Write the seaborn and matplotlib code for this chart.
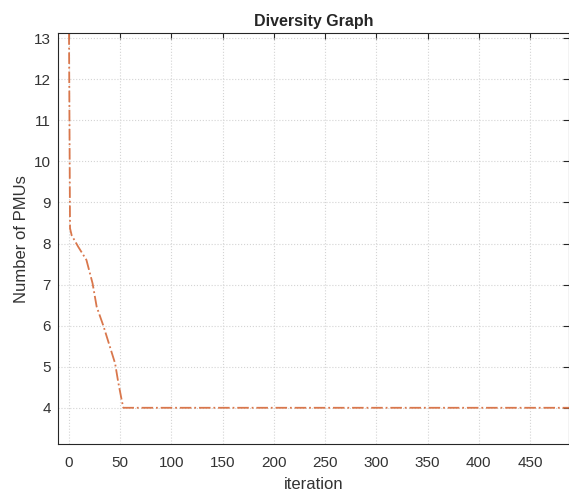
import numpy as np
import pandas as pd
import matplotlib
matplotlib.use("Agg")
import matplotlib.pyplot as plt
import seaborn as sns

# values
iteration = [0, 1, 2.6, 9, 17, 23, 27, 33.5, 40, 45, 48, 51.4, 53, 490]
pmus = [13.12, 8.37, 8.2, 7.92, 7.6, 7.03, 6.46, 6.0, 5.48, 5.08, 4.63, 4.19, 4.0, 4.0]
x_ticks = [0, 50, 100, 150, 200, 250, 300, 350, 400, 450]
y_ticks = [4, 5, 6, 7, 8, 9, 10, 11, 12, 13]

sns.set_style("white")
plt.rcParams['font.family'] = ['Liberation Sans', 'DejaVu Sans']

df = pd.DataFrame({"iteration": iteration, "pmus": pmus})

fig = plt.figure(figsize=(5.69, 4.96), dpi=100)
ax = fig.add_axes([0.102, 0.105, 0.898, 0.828])

sns.lineplot(data=df, x="iteration", y="pmus", ax=ax, sort=False,
             color="#D9774C", linestyle="-.", linewidth=1.3)

ax.set_xlim(-10.7, 488)
ax.set_ylim(3.12, 13.12)
ax.set_xticks(x_ticks)
ax.set_yticks(y_ticks)
ax.grid(True, linestyle=":", color="#d4d4d4", linewidth=0.8)
ax.tick_params(direction="in", length=4, width=0.8, colors="#262626",
               labelsize=11, top=True, right=True, labelcolor="#333333")
ax.tick_params(axis="x", pad=9)
ax.tick_params(axis="y", pad=5)
for s in ax.spines.values():
    s.set_color("#262626")
    s.set_linewidth(0.8)

ax.set_title("Diversity Graph", fontsize=11.5, fontweight="bold", pad=5)
ax.set_xlabel("iteration", fontsize=12, color="#333333", labelpad=5)
ax.set_ylabel("Number of PMUs", fontsize=12, color="#333333", labelpad=4)

fig.savefig("out.png", dpi=100)
